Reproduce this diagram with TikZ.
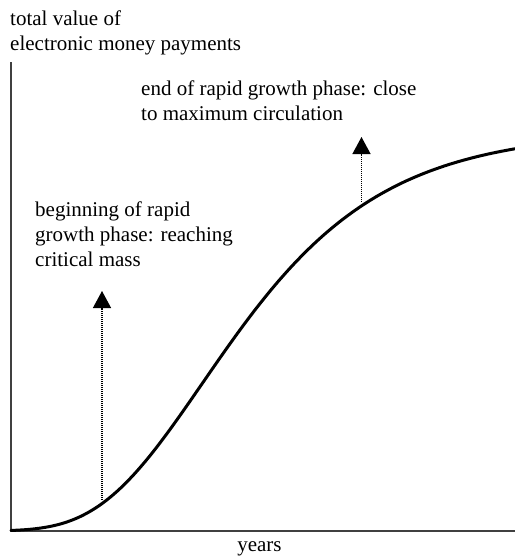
\documentclass[tikz,border=0pt]{standalone}
\usepackage{fontspec}
\setmainfont{Liberation Serif}
\usetikzlibrary{arrows.meta}
\begin{document}
\begin{tikzpicture}[x=1pt,y=-1pt,
  lbl/.style={font=\fontsize{21}{25}\selectfont, inner sep=0pt, align=left, anchor=base west},
  axisline/.style={draw=black!75, line width=1.1pt},
  growth/.style={line width=3pt, line join=round, line cap=round},
  marker/.style={line width=1.3pt, dash pattern=on 1pt off 1pt, -{Triangle[width=18pt,length=17pt]}}]
\useasboundingbox (0,0) rectangle (515,558);
\coordinate (ytop) at (11,62);
\coordinate (origin) at (11,531);
\coordinate (xend) at (515,531);
\draw[axisline] (ytop) -- (origin) -- (xend);
\draw[growth] plot[domain=11:515, samples=150, smooth] (\x, {531-400*exp(-exp(-0.00985*(\x-202)))});
\node[lbl] (ylab) at (10,50) {total value of\\electronic money payments};
\node[lbl] (beg) at (35,266) {beginning of rapid\\growth phase: reaching\\critical mass};
\node[lbl] (end) at (141,120) {end of rapid growth phase: close\\to maximum circulation};
\node[font=\fontsize{21}{25}\selectfont, inner sep=0pt, anchor=base] (xlab) at (259.5,551) {years};
\coordinate (a1s) at (102,500);
\coordinate (a1e) at (102,291);
\coordinate (a2s) at (361.5,202);
\coordinate (a2e) at (361.5,137);
\draw[marker] (a1s) -- (a1e);
\draw[marker] (a2s) -- (a2e);
\end{tikzpicture}
\end{document}
